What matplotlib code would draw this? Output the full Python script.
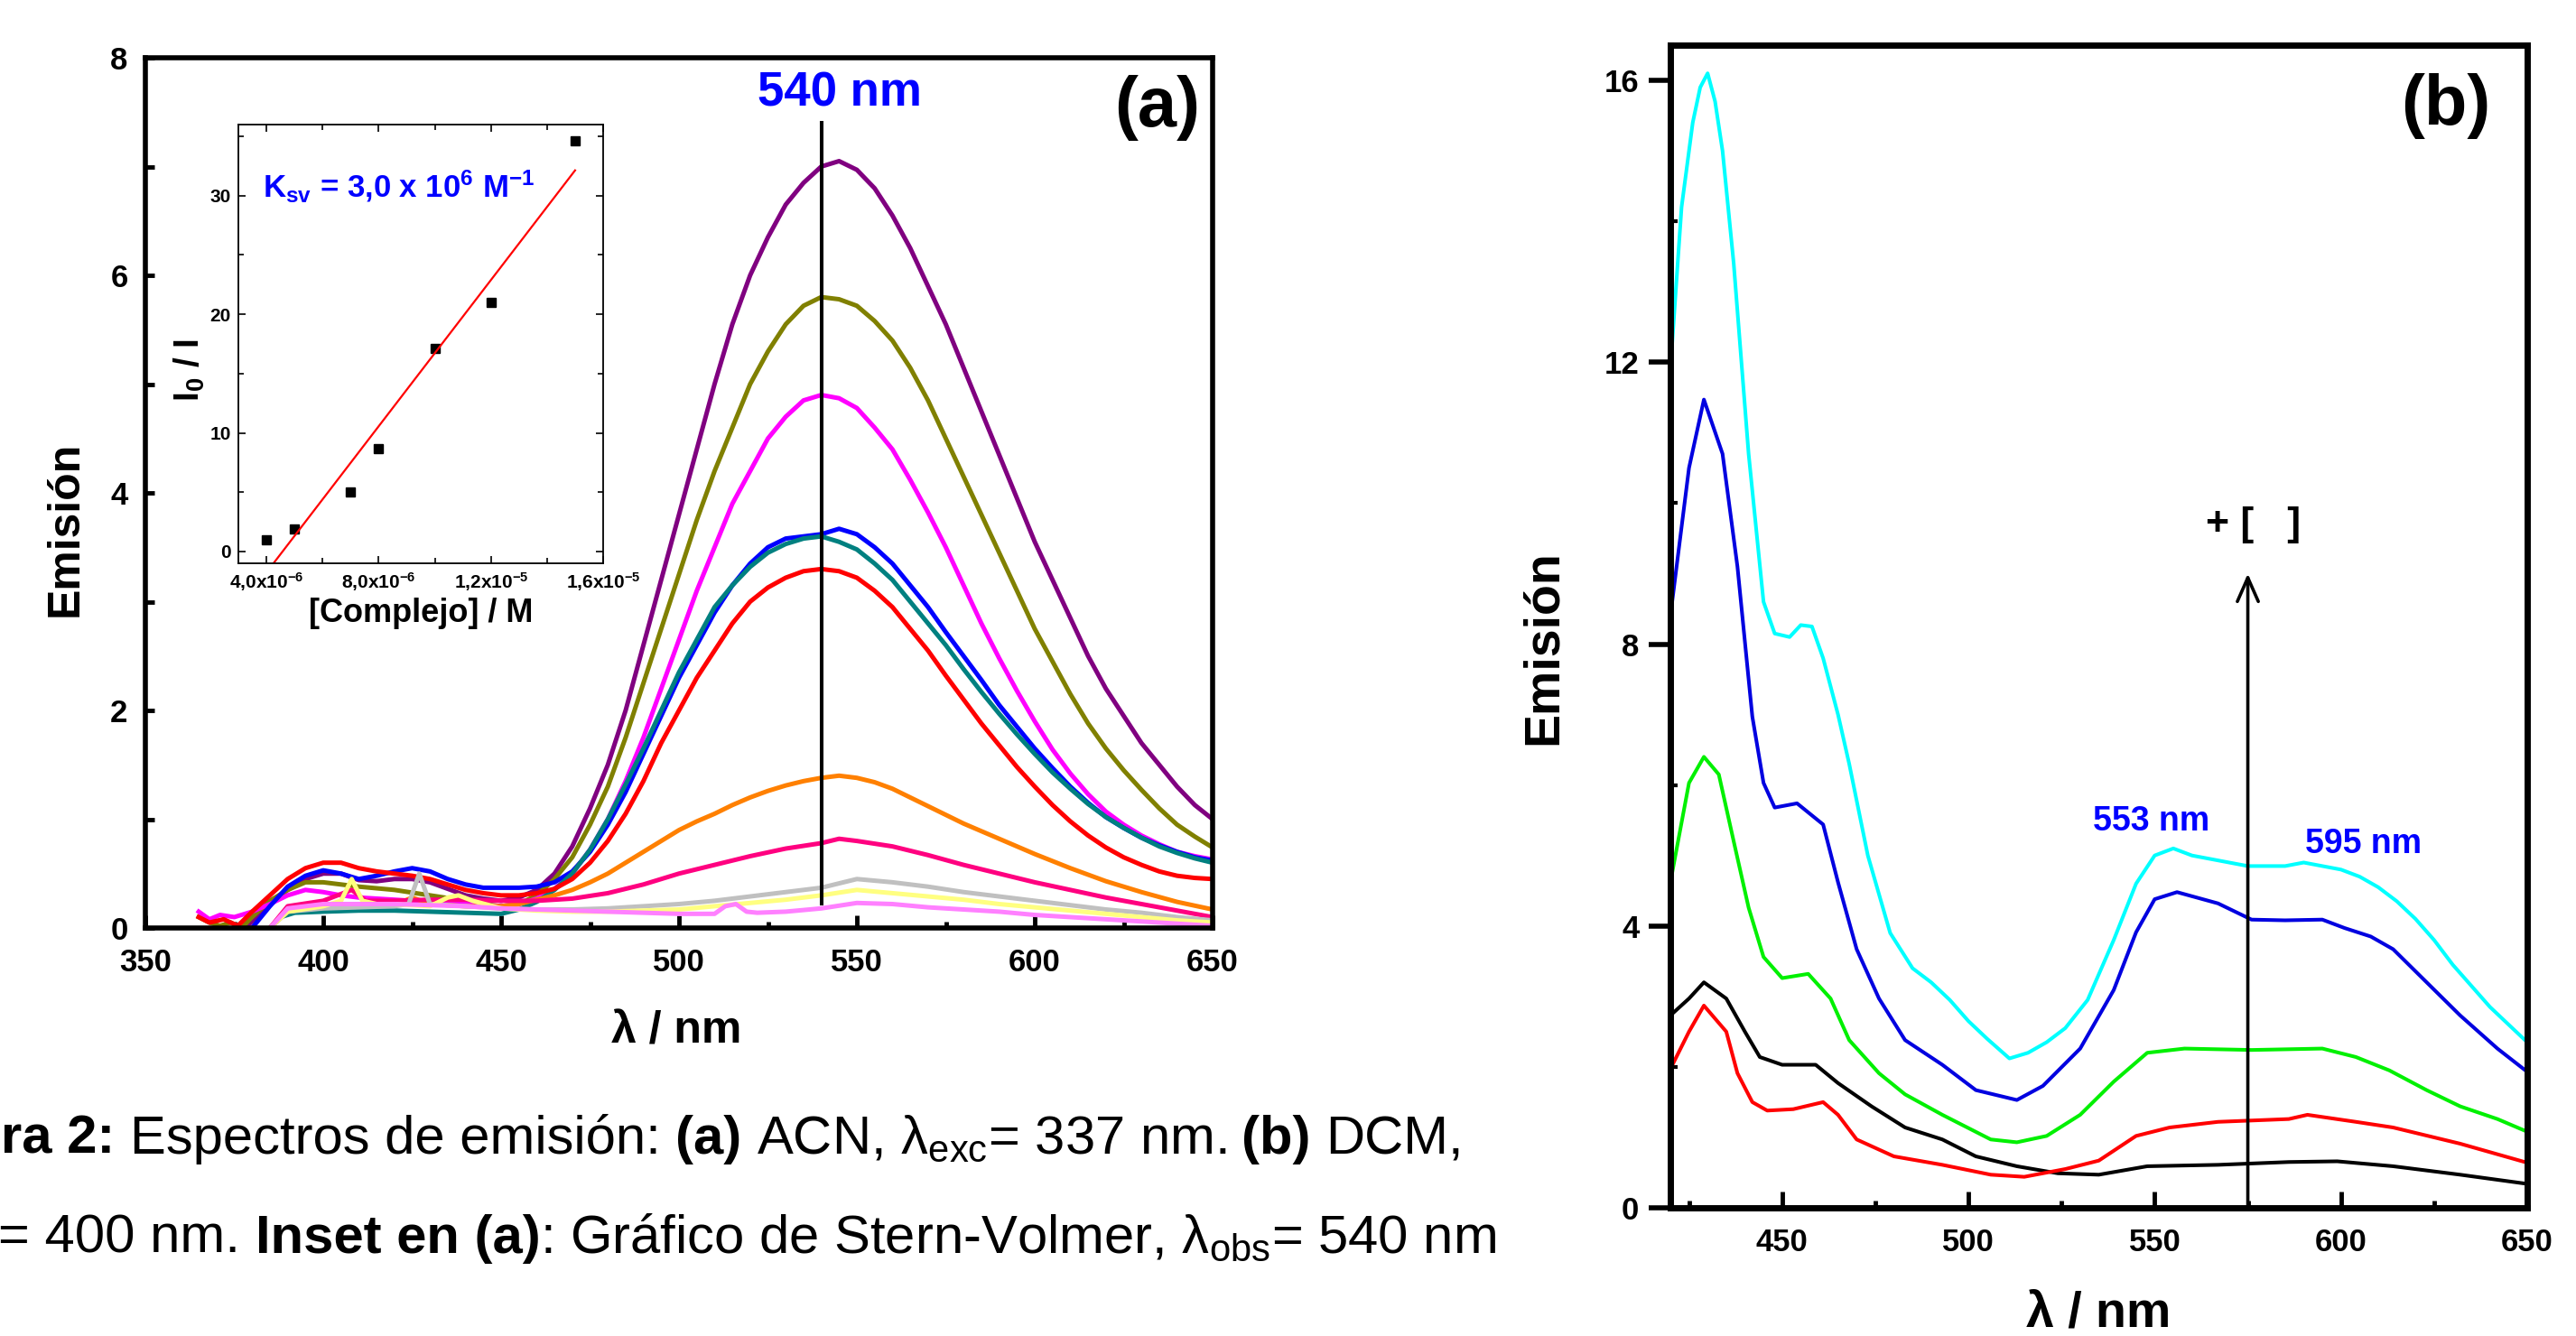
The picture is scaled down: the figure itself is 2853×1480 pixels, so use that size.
import numpy as np
import matplotlib
matplotlib.use('Agg')
import matplotlib.pyplot as plt
from matplotlib.ticker import MultipleLocator, FixedLocator

# ---- panel (a): emission spectra in ACN (wavelength / nm, emission) ----
purple_wl = [378, 382, 386, 390, 395, 400, 405, 410, 415, 420, 425, 430, 435, 440, 445, 450, 455, 460, 465, 470,
             475, 480, 485, 490, 495, 500, 505, 510, 515, 520, 525, 530, 535, 540, 545, 550, 555, 560, 565, 570,
             575, 580, 585, 590, 595, 600, 605, 610, 615, 620, 625, 630, 635, 640, 645, 650]
purple_em = [0.0, 0.12, 0.25, 0.35, 0.45, 0.50, 0.50, 0.44, 0.43, 0.45, 0.45, 0.42, 0.36, 0.30, 0.27, 0.25, 0.28,
             0.35, 0.5, 0.75, 1.1, 1.5, 2.0, 2.6, 3.2, 3.8, 4.4, 5.0, 5.55, 6.0, 6.35, 6.65, 6.85, 7.0, 7.05, 6.97,
             6.8, 6.55, 6.25, 5.9, 5.55, 5.15, 4.75, 4.35, 3.95, 3.55, 3.2, 2.85, 2.5, 2.2, 1.95, 1.7, 1.5, 1.3, 1.13,
             1.0]

olive_wl = [365, 368, 371, 374, 377, 380, 385, 390, 395, 400, 405, 410, 420, 430, 440, 445, 450, 455, 460, 465,
            470, 475, 480, 485, 490, 495, 500, 505, 510, 515, 520, 525, 530, 535, 540, 545, 550, 555, 560, 565,
            570, 575, 580, 585, 590, 595, 600, 605, 610, 615, 620, 625, 630, 635, 640, 645, 650]
olive_em = [0.1, 0.05, 0.02, 0.05, 0.0, 0.1, 0.25, 0.35, 0.42, 0.42, 0.40, 0.38, 0.35, 0.30, 0.25, 0.22, 0.20,
            0.22, 0.3, 0.45, 0.65, 0.95, 1.3, 1.75, 2.25, 2.75, 3.25, 3.75, 4.2, 4.6, 5.0, 5.3, 5.55, 5.72, 5.8,
            5.78, 5.72, 5.58, 5.4, 5.15, 4.85, 4.5, 4.15, 3.8, 3.45, 3.1, 2.75, 2.45, 2.15, 1.88, 1.65, 1.45, 1.27,
            1.1, 0.95, 0.84, 0.74]

magenta_wl = [365, 368, 371, 375, 380, 385, 390, 395, 400, 405, 410, 420, 430, 440, 450, 455, 460, 465, 470, 475,
              480, 485, 490, 495, 500, 505, 510, 515, 520, 525, 530, 535, 540, 545, 550, 555, 560, 565, 570, 575,
              580, 585, 590, 595, 600, 605, 610, 615, 620, 625, 630, 635, 640, 645, 650]
magenta_em = [0.15, 0.08, 0.12, 0.1, 0.15, 0.22, 0.3, 0.35, 0.33, 0.3, 0.28, 0.26, 0.24, 0.22, 0.2, 0.22, 0.27,
              0.36, 0.5, 0.72, 1.0, 1.35, 1.75, 2.2, 2.65, 3.1, 3.5, 3.9, 4.2, 4.5, 4.7, 4.85, 4.9, 4.87, 4.78,
              4.6, 4.4, 4.12, 3.82, 3.5, 3.15, 2.8, 2.48, 2.18, 1.9, 1.64, 1.42, 1.23, 1.07, 0.95, 0.85, 0.77,
              0.7, 0.66, 0.63]

blue_wl = [380, 385, 390, 395, 400, 405, 410, 415, 420, 425, 430, 435, 440, 445, 450, 455, 460, 465, 470, 475,
           480, 485, 490, 495, 500, 505, 510, 515, 520, 525, 530, 535, 540, 545, 550, 555, 560, 565, 570, 575,
           580, 585, 590, 595, 600, 605, 610, 615, 620, 625, 630, 635, 640, 645, 650]
blue_em = [0.0, 0.2, 0.38, 0.48, 0.53, 0.50, 0.45, 0.48, 0.52, 0.55, 0.52, 0.45, 0.40, 0.37, 0.37, 0.37, 0.38,
           0.42, 0.52, 0.7, 0.95, 1.25, 1.6, 1.95, 2.3, 2.6, 2.9, 3.15, 3.35, 3.5, 3.58, 3.6, 3.62, 3.67, 3.62,
           3.5, 3.35, 3.15, 2.95, 2.72, 2.5, 2.28, 2.05, 1.85, 1.65, 1.47, 1.3, 1.15, 1.02, 0.92, 0.83, 0.76,
           0.7, 0.65, 0.62]

teal_wl = [385, 388, 392, 400, 410, 420, 430, 440, 450, 455, 460, 465, 470, 475, 480, 485, 490, 495, 500, 505,
           510, 515, 520, 525, 530, 535, 540, 545, 550, 555, 560, 565, 570, 575, 580, 585, 590, 595, 600, 605,
           610, 615, 620, 625, 630, 635, 640, 645, 650]
teal_em = [0.0, 0.1, 0.14, 0.15, 0.16, 0.16, 0.15, 0.14, 0.13, 0.17, 0.24, 0.35, 0.5, 0.72, 1.0, 1.32, 1.65,
           2.0, 2.35, 2.65, 2.95, 3.15, 3.32, 3.45, 3.53, 3.58, 3.6, 3.55, 3.48, 3.35, 3.2, 3.0, 2.8, 2.6, 2.38,
           2.17, 1.97, 1.78, 1.6, 1.43, 1.28, 1.14, 1.02, 0.92, 0.83, 0.75, 0.69, 0.64, 0.6]

red_wl = [365, 368, 372, 376, 380, 385, 390, 395, 400, 405, 410, 415, 420, 425, 430, 435, 440, 445, 450, 455,
          460, 465, 470, 475, 480, 485, 490, 495, 500, 505, 510, 515, 520, 525, 530, 535, 540, 545, 550, 555,
          560, 565, 570, 575, 580, 585, 590, 595, 600, 605, 610, 615, 620, 625, 630, 635, 640, 645, 650]
red_em = [0.1, 0.05, 0.08, 0.02, 0.15, 0.3, 0.45, 0.55, 0.6, 0.6, 0.55, 0.52, 0.5, 0.48, 0.45, 0.4, 0.35, 0.32,
          0.30, 0.30, 0.32, 0.36, 0.45, 0.6, 0.8, 1.05, 1.35, 1.7, 2.0, 2.3, 2.55, 2.8, 3.0, 3.13, 3.22, 3.28,
          3.3, 3.28, 3.22, 3.1, 2.95, 2.75, 2.55, 2.32, 2.1, 1.88, 1.68, 1.48, 1.3, 1.13, 0.98, 0.85, 0.74,
          0.65, 0.58, 0.52, 0.48, 0.46, 0.45]

orange_wl = [385, 390, 400, 410, 420, 425, 430, 440, 450, 455, 460, 465, 470, 475, 480, 485, 490, 495, 500, 505,
             510, 515, 520, 525, 530, 535, 540, 545, 550, 555, 560, 565, 570, 575, 580, 590, 600, 610, 620, 630,
             640, 650]
orange_em = [0.0, 0.15, 0.2, 0.2, 0.21, 0.28, 0.22, 0.2, 0.2, 0.22, 0.26, 0.3, 0.35, 0.42, 0.5, 0.6, 0.7, 0.8,
             0.9, 0.98, 1.05, 1.13, 1.2, 1.26, 1.31, 1.35, 1.38, 1.4, 1.38, 1.34, 1.28, 1.2, 1.12, 1.04, 0.96,
             0.82, 0.68, 0.55, 0.43, 0.33, 0.24, 0.17]

rose_wl = [385, 390, 400, 408, 412, 420, 430, 440, 450, 460, 470, 480, 490, 500, 510, 520, 530, 540, 545, 550,
           560, 570, 580, 590, 600, 610, 620, 630, 640, 650]
rose_em = [0.0, 0.2, 0.25, 0.35, 0.25, 0.25, 0.26, 0.26, 0.25, 0.25, 0.27, 0.32, 0.4, 0.5, 0.58, 0.66, 0.73,
           0.78, 0.82, 0.8, 0.75, 0.67, 0.58, 0.5, 0.42, 0.35, 0.28, 0.22, 0.16, 0.1]

gray_wl = [385, 390, 400, 410, 420, 424, 427, 430, 440, 450, 460, 470, 480, 490, 500, 510, 520, 530, 540, 550,
           560, 570, 580, 590, 600, 610, 620, 630, 640, 650]
gray_em = [0.0, 0.15, 0.18, 0.19, 0.2, 0.22, 0.5, 0.22, 0.2, 0.18, 0.17, 0.17, 0.18, 0.2, 0.22, 0.25, 0.29,
           0.33, 0.37, 0.45, 0.42, 0.38, 0.33, 0.29, 0.25, 0.21, 0.17, 0.14, 0.1, 0.07]

yellow_wl = [385, 390, 400, 405, 408, 411, 415, 420, 430, 435, 438, 442, 450, 460, 470, 480, 490, 500, 510, 520,
             530, 540, 550, 560, 570, 580, 590, 600, 610, 620, 630, 640, 650]
yellow_em = [0.0, 0.15, 0.2, 0.25, 0.45, 0.25, 0.22, 0.22, 0.2, 0.28, 0.3, 0.25, 0.18, 0.16, 0.15, 0.15, 0.16,
             0.17, 0.2, 0.23, 0.26, 0.3, 0.35, 0.32, 0.29, 0.26, 0.22, 0.19, 0.16, 0.13, 0.1, 0.07, 0.05]

violet_wl = [385, 390, 400, 410, 420, 430, 440, 450, 460, 470, 480, 490, 500, 510, 513, 516, 519, 522, 530, 540,
             550, 560, 570, 580, 590, 600, 610, 620, 630, 640, 650]
violet_em = [0.0, 0.18, 0.22, 0.22, 0.22, 0.21, 0.2, 0.18, 0.17, 0.16, 0.15, 0.14, 0.13, 0.13, 0.2, 0.22, 0.15,
             0.14, 0.15, 0.18, 0.23, 0.22, 0.19, 0.17, 0.15, 0.12, 0.1, 0.08, 0.06, 0.04, 0.02]

# ---- inset: Stern-Volmer ----
complejo = [4.0e-6, 5.0e-6, 7.0e-6, 8.0e-6, 1.0e-5, 1.2e-5, 1.5e-5]
i0_i = [1.0, 1.9, 5.0, 8.7, 17.1, 21.0, 34.6]
inset_xticks = [4e-6, 8e-6, 1.2e-5, 1.6e-5]
inset_xticklabels = ['4,0x10$^{-6}$', '8,0x10$^{-6}$', '1,2x10$^{-5}$', '1,6x10$^{-5}$']

# ---- panel (b): emission spectra in DCM ----
cyan_wl = [420, 423, 426, 428, 430, 432, 434, 437, 441, 445, 448, 452, 455, 458, 461, 465, 468, 473, 479, 485,
           490, 495, 500, 505, 511, 516, 521, 526, 532, 539, 545, 550, 555, 560, 565, 570, 575, 580, 585, 590,
           595, 600, 605, 610, 615, 620, 625, 630, 635, 640, 645, 650]
cyan_em = [11.9, 14.2, 15.4, 15.9, 16.1, 15.7, 15.0, 13.4, 10.7, 8.6, 8.15, 8.1, 8.27, 8.25, 7.8, 7.0, 6.3, 5.0,
           3.9, 3.4, 3.2, 2.95, 2.65, 2.4, 2.12, 2.2, 2.35, 2.55, 2.95, 3.8, 4.6, 5.0, 5.1, 5.0, 4.95, 4.9, 4.85,
           4.85, 4.85, 4.9, 4.85, 4.8, 4.7, 4.55, 4.35, 4.1, 3.8, 3.45, 3.15, 2.85, 2.6, 2.35]

blueb_wl = [420, 425, 429, 434, 438, 442, 445, 448, 454, 461, 465, 470, 476, 483, 493, 502, 513, 520, 530, 539,
            545, 550, 556, 567, 576, 585, 595, 601, 608, 614, 623, 632, 642, 650]
blueb_em = [8.4, 10.5, 11.47, 10.7, 9.1, 6.97, 6.03, 5.68, 5.74, 5.44, 4.62, 3.67, 2.97, 2.38, 2.03, 1.67, 1.53,
            1.73, 2.26, 3.09, 3.91, 4.38, 4.48, 4.32, 4.09, 4.08, 4.09, 3.97, 3.85, 3.67, 3.2, 2.73, 2.26, 1.93]

green_wl = [420, 425, 429, 433, 437, 441, 445, 450, 457, 463, 468, 476, 483, 493, 506, 513, 521, 530, 539, 548,
            558, 576, 595, 604, 613, 623, 632, 642, 650]
green_em = [4.62, 6.03, 6.4, 6.15, 5.2, 4.26, 3.56, 3.26, 3.32, 2.97, 2.38, 1.91, 1.61, 1.32, 0.97, 0.93, 1.02,
            1.32, 1.79, 2.2, 2.26, 2.24, 2.26, 2.14, 1.95, 1.67, 1.44, 1.26, 1.08]

black_wl = [420, 425, 429, 435, 440, 444, 450, 459, 465, 474, 483, 493, 502, 513, 524, 535, 548, 567, 586, 599,
            614, 632, 650]
black_em = [2.73, 2.97, 3.2, 2.97, 2.5, 2.14, 2.03, 2.03, 1.77, 1.44, 1.14, 0.97, 0.73, 0.59, 0.49, 0.47, 0.59,
            0.61, 0.65, 0.66, 0.59, 0.47, 0.34]

redb_wl = [420, 425, 429, 435, 438, 442, 446, 453, 461, 465, 470, 480, 493, 506, 515, 526, 535, 545, 554, 567,
           586, 591, 604, 614, 632, 650]
redb_em = [1.97, 2.5, 2.87, 2.5, 1.91, 1.5, 1.38, 1.4, 1.5, 1.32, 0.97, 0.73, 0.61, 0.47, 0.44, 0.55, 0.67, 1.02,
           1.14, 1.22, 1.26, 1.32, 1.22, 1.14, 0.91, 0.64]

# caption pieces: (text, weight)
caption_1 = [('ra 2:', 'bold'), ('Espectros de emisión:', 'normal'), ('(a)', 'bold'),
             ('ACN, λ$_{exc}$= 337 nm.', 'normal'), ('(b)', 'bold'), ('DCM,', 'normal')]
caption_2 = [('= 400 nm.', 'normal'), ('Inset en (a)', 'bold'),
             (': Gráfico de Stern-Volmer, λ$_{obs}$= 540 nm', 'normal')]

plt.rcParams['font.family'] = ['Liberation Sans', 'DejaVu Sans']
plt.rcParams['font.weight'] = 'bold'
plt.rcParams['axes.labelweight'] = 'bold'
plt.rcParams['mathtext.fontset'] = 'custom'
plt.rcParams['mathtext.rm'] = 'Liberation Sans'
plt.rcParams['mathtext.bf'] = 'Liberation Sans:bold'
plt.rcParams['mathtext.it'] = 'Liberation Sans:italic'
plt.rcParams['mathtext.default'] = 'regular'

W, H = 2853, 1480
fig = plt.figure(figsize=(W / 100, H / 100), dpi=100)


def box(left, top, right, bottom):
    # pixel box -> figure fraction rect
    return [left / W, 1 - bottom / H, (right - left) / W, (bottom - top) / H]


# ---------------- panel (a) ----------------
ax_a = fig.add_axes(box(161, 64, 1343, 1028))
series_a = [(purple_wl, purple_em, '#800080'), (olive_wl, olive_em, '#808000'),
            (magenta_wl, magenta_em, '#FF00FF'), (blue_wl, blue_em, '#0000FF'),
            (teal_wl, teal_em, '#008080'), (red_wl, red_em, '#FF0000'),
            (orange_wl, orange_em, '#FF8000'), (rose_wl, rose_em, '#FF0080'),
            (gray_wl, gray_em, '#C0C0C0'), (yellow_wl, yellow_em, '#FFFF80'),
            (violet_wl, violet_em, '#FF80FF')]
for wl, em, col in series_a:
    ax_a.plot(wl, em, color=col, lw=3.6)

obs_wl = 540
ax_a.plot([obs_wl, obs_wl], [0.22, 7.4], color='k', lw=2.9)
ax_a.text(545.2, 7.67, '540 nm', color='#0000FF', fontsize=38, ha='center', va='center')
ax_a.text(634.4, 7.54, '(a)', fontsize=56, ha='center', va='center')

ax_a.set_xlim(350, 650)
ax_a.set_ylim(0, 8)
ax_a.xaxis.set_major_locator(MultipleLocator(50))
ax_a.xaxis.set_minor_locator(MultipleLocator(25))
ax_a.yaxis.set_major_locator(MultipleLocator(2))
ax_a.yaxis.set_minor_locator(MultipleLocator(1))
ax_a.tick_params(which='both', direction='in', width=3.5, labelsize=25)
ax_a.tick_params(axis='x', which='major', length=10, pad=16)
ax_a.tick_params(axis='x', which='minor', length=5)
ax_a.tick_params(axis='y', which='both', length=7, pad=14)
for sp in ax_a.spines.values():
    sp.set_linewidth(4)
ax_a.set_ylabel('Emisión', fontsize=36, fontweight='bold', va='center')
ax_a.yaxis.set_label_coords(-0.0745, 0.4585)
ax_a.set_xlabel('λ / nm', fontsize=36, fontweight='bold', va='center')
ax_a.xaxis.set_label_coords(0.498, -0.119)

# ---------------- inset ----------------
ax_in = fig.add_axes(box(264, 138, 668, 624))
ax_in.plot(complejo, i0_i, 's', color='k', ms=7)
fit = np.polyfit(complejo, i0_i, 1)
fit_x = np.array([complejo[0], complejo[-1]])
ax_in.plot(fit_x, np.polyval(fit, fit_x), color='red', lw=1.6)
ax_in.set_xlim(3e-6, 1.6e-5)
ax_in.set_ylim(-1, 36)
ax_in.xaxis.set_major_locator(FixedLocator(inset_xticks))
ax_in.set_xticklabels(inset_xticklabels)
ax_in.xaxis.set_minor_locator(FixedLocator([6e-6, 1e-5, 1.4e-5]))
ax_in.yaxis.set_major_locator(MultipleLocator(10))
ax_in.yaxis.set_minor_locator(MultipleLocator(5))
ax_in.tick_params(which='both', direction='in', top=True, right=True, width=1.2, labelsize=15)
ax_in.tick_params(which='major', length=6, pad=6)
ax_in.tick_params(which='minor', length=4)
for sp in ax_in.spines.values():
    sp.set_linewidth(1.3)
ax_in.set_ylabel(r'I$_{0}$ / I', fontsize=28, fontweight='bold', va='center')
ax_in.yaxis.set_label_coords(-0.134, 0.44)
ax_in.set_xlabel('[Complejo] / M', fontsize=26, fontweight='bold', va='center')
ax_in.xaxis.set_label_coords(0.5, -0.115)
ax_in.text(0.44, 0.86, r'K$_{sv}$ = 3,0 x 10$^{6}$ M$^{-1}$', transform=ax_in.transAxes,
           color='#0000FF', fontsize=25, ha='center', va='center')

# ---------------- panel (b) ----------------
ax_b = fig.add_axes(box(1850, 50, 2799, 1338))
series_b = [(cyan_wl, cyan_em, '#00FFFF'), (blueb_wl, blueb_em, '#0000E0'),
            (green_wl, green_em, '#00F000'), (black_wl, black_em, '#000000'),
            (redb_wl, redb_em, '#FF0000')]
for wl, em, col in series_b:
    ax_b.plot(wl, em, color=col, lw=2.9)

arrow_wl = 575
ax_b.annotate('', xy=(arrow_wl, 9.0), xytext=(arrow_wl, 0),
              arrowprops=dict(arrowstyle='->,head_length=0.5,head_width=0.22', lw=2.6,
                              color='k', mutation_scale=38, shrinkA=0, shrinkB=0))
ax_b.text(576.5, 9.69, '+ [   ]', fontsize=32, ha='center', va='center')
ax_b.text(549, 5.48, '553 nm', color='#0000FF', fontsize=27, ha='center', va='center')
ax_b.text(606, 5.16, '595 nm', color='#0000FF', fontsize=27, ha='center', va='center')
ax_b.text(628.2, 15.63, '(b)', fontsize=56, ha='center', va='center')

ax_b.set_xlim(420, 650)
ax_b.set_ylim(0, 16.5)
ax_b.xaxis.set_major_locator(MultipleLocator(50))
ax_b.xaxis.set_minor_locator(MultipleLocator(25))
ax_b.yaxis.set_major_locator(MultipleLocator(4))
ax_b.yaxis.set_minor_locator(MultipleLocator(2))
ax_b.tick_params(labelsize=25)
ax_b.tick_params(axis='x', which='major', direction='in', length=13, width=3.5, pad=16)
ax_b.tick_params(axis='x', which='minor', direction='in', length=6, width=3.5)
ax_b.tick_params(axis='y', which='major', direction='out', length=17, width=4, pad=8)
ax_b.tick_params(axis='y', which='minor', direction='in', length=6, width=3)
for sp in ax_b.spines.values():
    sp.set_linewidth(5)
ax_b.set_ylabel('Emisión', fontsize=40, fontweight='bold', va='center')
ax_b.yaxis.set_label_coords(-0.1475, 0.482)
ax_b.set_xlabel('λ / nm', fontsize=40, fontweight='bold', va='center')
ax_b.xaxis.set_label_coords(0.4995, -0.0916)

# ---------------- caption (mixed bold / regular runs on one baseline) ----------------
renderer = fig.canvas.get_renderer()
cap_size = 43
space_px = 0.278 * cap_size * 100 / 72


def caption_line(pieces, x_px, base_px):
    for i, (txt, weight) in enumerate(pieces):
        t = fig.text(x_px / W, 1 - base_px / H, txt, fontsize=cap_size, fontweight=weight,
                     ha='left', va='baseline')
        x_px += t.get_window_extent(renderer).width
        nxt = pieces[i + 1][0] if i + 1 < len(pieces) else ''
        if not nxt.startswith(':'):
            x_px += space_px


caption_line(caption_1, 1, 1278)
caption_line(caption_2, -2, 1388)

fig.savefig('out.png', dpi=100)
